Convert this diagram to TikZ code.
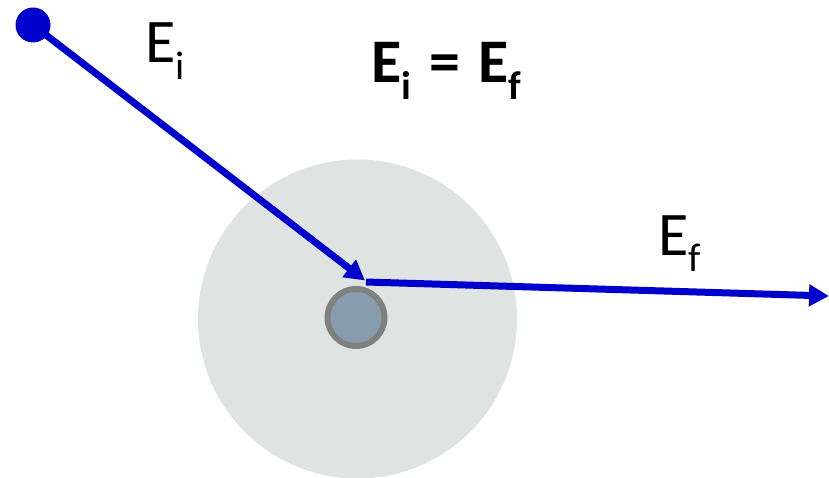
\documentclass[tikz,border=0pt]{standalone}
\usepackage{fontspec}
\setmainfont{Carlito}
\usetikzlibrary{arrows.meta}
\definecolor{beamBlue}{RGB}{0,0,204}
\definecolor{cloudGray}{RGB}{223,227,226}
\definecolor{coreFill}{RGB}{135,157,174}
\definecolor{coreRim}{RGB}{127,129,128}
\newcommand{\esub}[1]{\raisebox{-0.26em}{\fontsize{40}{42}\selectfont #1}}
\begin{document}
\begin{tikzpicture}[x=1pt, y=-1pt,
  beam/.style={draw=beamBlue, line width=7pt, -{Triangle[length=20pt,width=21pt]}},
  elabel/.style={inner sep=0pt, anchor=base west, font=\fontsize{62}{64}\selectfont}]
\useasboundingbox (0,0) rectangle (829,478);
% Atom: electron cloud and nucleus
\fill[cloudGray] (357.5,319) circle (159.5);
\node[circle, fill=coreFill, draw=coreRim, line width=6pt, minimum size=57pt, inner sep=0pt] (core) at (356,317.5) {};
% Incoming and outgoing particle
\node[circle, fill=beamBlue, minimum size=35pt, inner sep=0pt] (src) at (33,25) {};
\coordinate (hit) at (365,280.5);
\coordinate (kick) at (366,282);
\coordinate (out) at (829,296);
\draw[beam] (src.center) -- (hit);
\draw[beam] (kick) -- (out);
% Labels
\node[elabel] (ei) at (145,63) {E\esub{i}};
\node[elabel] (ef) at (658,255) {E\esub{f}};
\node[elabel, font=\fontsize{62}{64}\selectfont\bfseries] (eq) at (371,83) {E\esub{i}\hspace{4pt} = \hspace{4pt}E\esub{f}};
\end{tikzpicture}
\end{document}
